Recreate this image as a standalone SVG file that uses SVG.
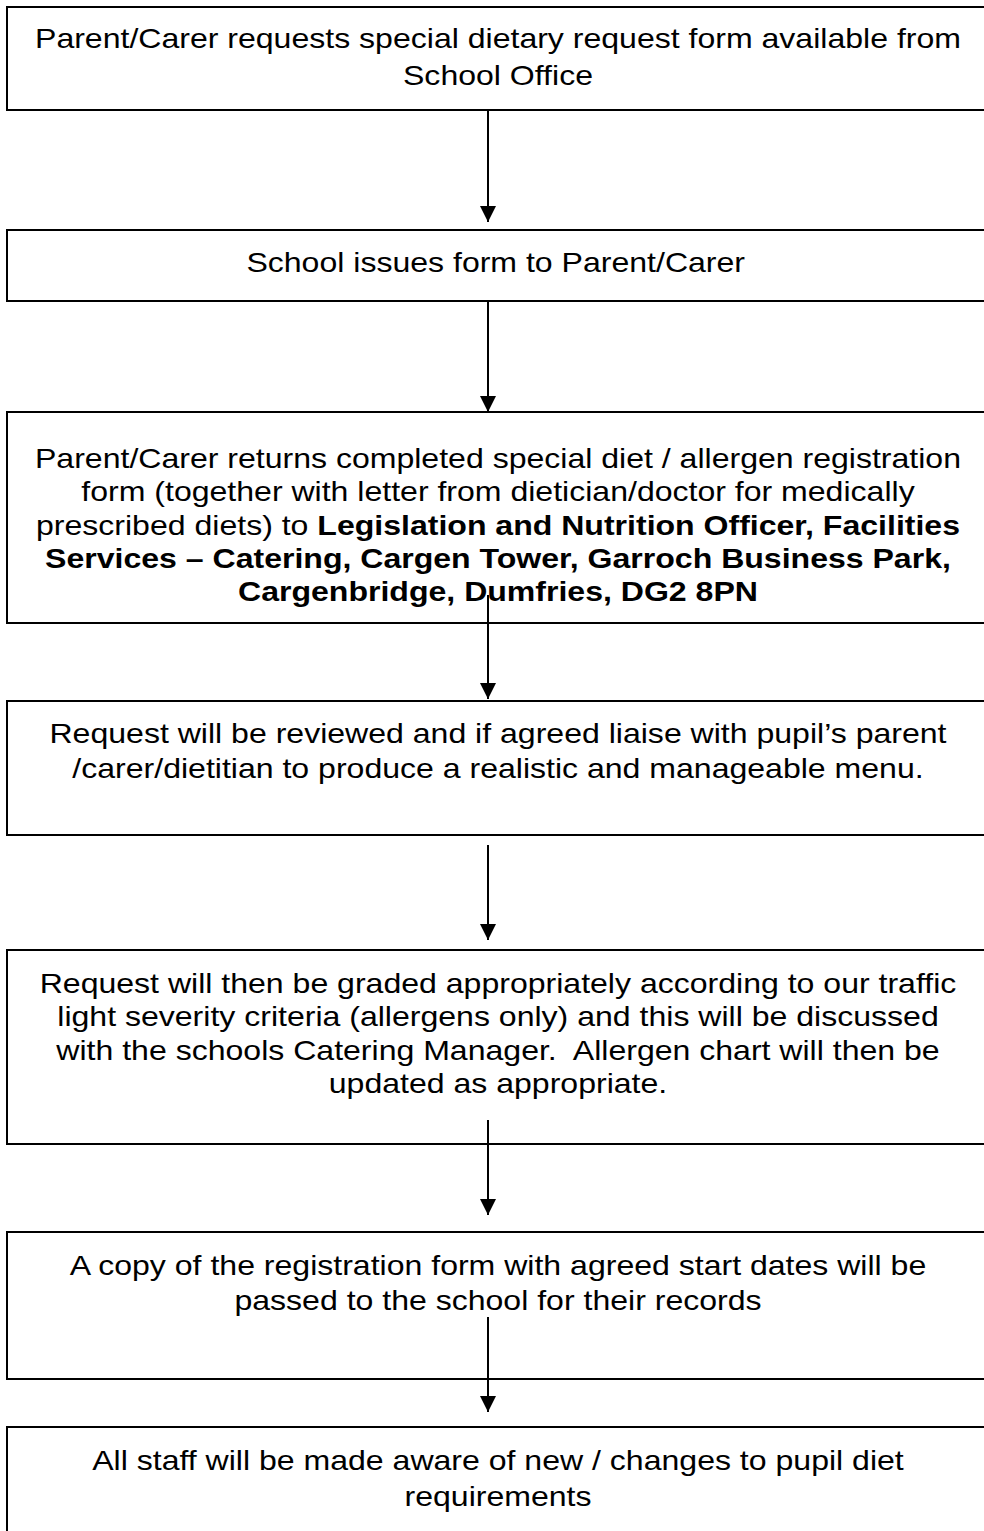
<svg xmlns="http://www.w3.org/2000/svg" width="984" height="1531" viewBox="0 0 984 1531">
<defs>
<marker id="ah" markerWidth="16" markerHeight="16" viewBox="0 0 16 16" refX="16" refY="8" orient="auto" markerUnits="userSpaceOnUse">
<path d="M0,0 L16,8 L0,16 Z" fill="#000"/>
</marker>
<style>
.box{fill:#fff;stroke:#000;stroke-width:2}
.t{font-family:"Liberation Sans",Arial,sans-serif;font-size:28px;fill:#000;text-anchor:middle;white-space:pre}
.b{font-weight:bold}
.c{stroke:#000;stroke-width:2;fill:none;marker-end:url(#ah)}
</style>
</defs>
<rect width="984" height="1531" fill="#fff"/>
<g id="n1">
<rect class="box" x="7" y="7" width="1000" height="103"/>
<g transform="matrix(1.145,0,0,1,-72.21,0)">
<text class="t" x="498" y="48">Parent/Carer requests special dietary request form available from</text>
<text class="t" x="498" y="85">School Office</text>
</g>
</g>
<g id="n2">
<rect class="box" x="7" y="230" width="1000" height="71"/>
<g transform="matrix(1.145,0,0,1,-72.21,0)">
<text class="t" x="496" y="272">School issues form to Parent/Carer</text>
</g>
</g>
<g id="n3">
<rect class="box" x="7" y="412" width="1000" height="211"/>
<g transform="matrix(1.145,0,0,1,-72.21,0)">
<text class="t" x="498" y="468">Parent/Carer returns completed special diet / allergen registration</text>
<text class="t" x="498" y="501">form (together with letter from dietician/doctor for medically</text>
<text class="t" x="498" y="535">prescribed diets) to <tspan class="b">Legislation and Nutrition Officer, Facilities</tspan></text>
<text class="t b" x="498" y="568">Services – Catering, Cargen Tower, Garroch Business Park,</text>
<text class="t b" x="498" y="601">Cargenbridge, Dumfries, DG2 8PN</text>
</g>
</g>
<g id="n4">
<rect class="box" x="7" y="701" width="1000" height="134"/>
<g transform="matrix(1.145,0,0,1,-72.21,0)">
<text class="t" x="498" y="743">Request will be reviewed and if agreed liaise with pupil’s parent</text>
<text class="t" x="498" y="778">/carer/dietitian to produce a realistic and manageable menu.</text>
</g>
</g>
<g id="n5">
<rect class="box" x="7" y="950" width="1000" height="194"/>
<g transform="matrix(1.145,0,0,1,-72.21,0)">
<text class="t" x="498" y="993">Request will then be graded appropriately according to our traffic</text>
<text class="t" x="498" y="1026">light severity criteria (allergens only) and this will be discussed</text>
<text class="t" x="498" y="1060" xml:space="preserve">with the schools Catering Manager.  Allergen chart will then be</text>
<text class="t" x="498" y="1093">updated as appropriate.</text>
</g>
</g>
<g id="n6">
<rect class="box" x="7" y="1232" width="1000" height="147"/>
<g transform="matrix(1.145,0,0,1,-72.21,0)">
<text class="t" x="498" y="1275">A copy of the registration form with agreed start dates will be</text>
<text class="t" x="498" y="1310">passed to the school for their records</text>
</g>
</g>
<g id="n7">
<rect class="box" x="7" y="1427" width="1000" height="130"/>
<g transform="matrix(1.145,0,0,1,-72.21,0)">
<text class="t" x="498" y="1470">All staff will be made aware of new / changes to pupil diet</text>
<text class="t" x="498" y="1506">requirements</text>
</g>
</g>
<g id="connectors">
<line class="c" x1="488" y1="110" x2="488" y2="222"/>
<line class="c" x1="488" y1="301" x2="488" y2="412"/>
<line class="c" x1="488" y1="595" x2="488" y2="699"/>
<line class="c" x1="488" y1="845" x2="488" y2="940"/>
<line class="c" x1="488" y1="1120" x2="488" y2="1215"/>
<line class="c" x1="488" y1="1317" x2="488" y2="1412"/>
</g>
</svg>
